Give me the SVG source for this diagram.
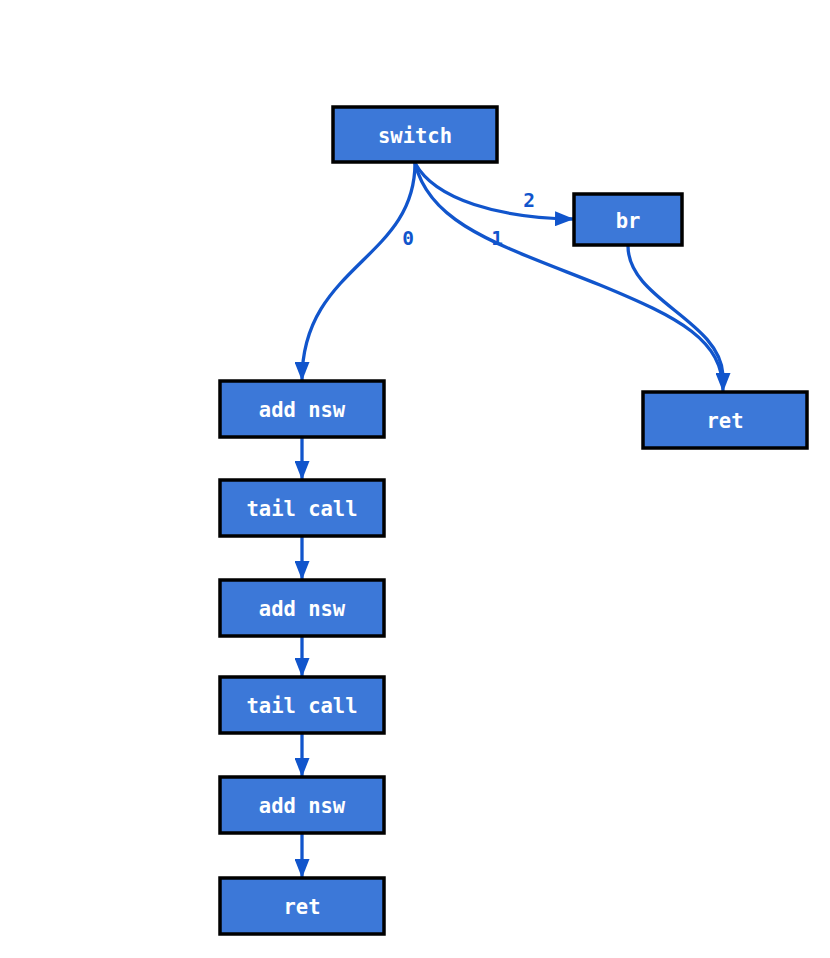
<svg xmlns="http://www.w3.org/2000/svg" width="830" height="958" viewBox="0 0 830 958">
<style>
.node rect{fill:#3c78d8;stroke:#000;stroke-width:3.5}
.node text{fill:#fff;font-family:"DejaVu Sans Mono","Liberation Mono",monospace;font-weight:bold;font-size:20.5px;text-anchor:middle;dominant-baseline:central}
.edge{fill:none;stroke:#1155cc;stroke-width:3.3}
.lbl{fill:#1155cc;font-family:"DejaVu Sans Mono","Liberation Mono",monospace;font-weight:bold;font-size:19.5px;text-anchor:middle}
</style>
<defs>
<marker id="arr" markerUnits="userSpaceOnUse" markerWidth="19" markerHeight="15" refX="18" refY="7.5" orient="auto">
<path d="M0,0 L19,7.5 L0,15 Z" fill="#1155cc"/>
</marker>
</defs>
<rect width="830" height="958" fill="#fff"/>
<g id="connectors">
<path class="edge" marker-end="url(#arr)" d="M415,163 C415,260 302,265 302,380"/>
<path class="edge" marker-end="url(#arr)" d="M415,163 C435,200 500,218 573,219"/>
<path class="edge" marker-end="url(#arr)" d="M415,163 C430,225 500,245 600,285 C680,318 723,340 723,391"/>
<path class="edge" d="M628,246 C628,300 720,320 723,375"/>
<path class="edge" marker-end="url(#arr)" d="M302,438 L302,479"/>
<path class="edge" marker-end="url(#arr)" d="M302,537 L302,579"/>
<path class="edge" marker-end="url(#arr)" d="M302,637 L302,676"/>
<path class="edge" marker-end="url(#arr)" d="M302,734 L302,776"/>
<path class="edge" marker-end="url(#arr)" d="M302,834 L302,877"/>
<text class="lbl" x="408" y="245">0</text>
<text class="lbl" x="497" y="245">1</text>
<text class="lbl" x="529" y="207">2</text>
</g>
<g id="n_switch" class="node"><rect x="333" y="107" width="164" height="55"/><text x="415" y="136">switch</text></g>
<g id="n_br" class="node"><rect x="574" y="194" width="108" height="51"/><text x="628" y="221">br</text></g>
<g id="n_ret_right" class="node"><rect x="643" y="392" width="164" height="56"/><text x="725" y="421">ret</text></g>
<g id="n_add1" class="node"><rect x="220" y="381" width="164" height="56"/><text x="302" y="410">add nsw</text></g>
<g id="n_tail1" class="node"><rect x="220" y="480" width="164" height="56"/><text x="302" y="509">tail call</text></g>
<g id="n_add2" class="node"><rect x="220" y="580" width="164" height="56"/><text x="302" y="609">add nsw</text></g>
<g id="n_tail2" class="node"><rect x="220" y="677" width="164" height="56"/><text x="302" y="706">tail call</text></g>
<g id="n_add3" class="node"><rect x="220" y="777" width="164" height="56"/><text x="302" y="806">add nsw</text></g>
<g id="n_ret_left" class="node"><rect x="220" y="878" width="164" height="56"/><text x="302" y="907">ret</text></g>
</svg>
